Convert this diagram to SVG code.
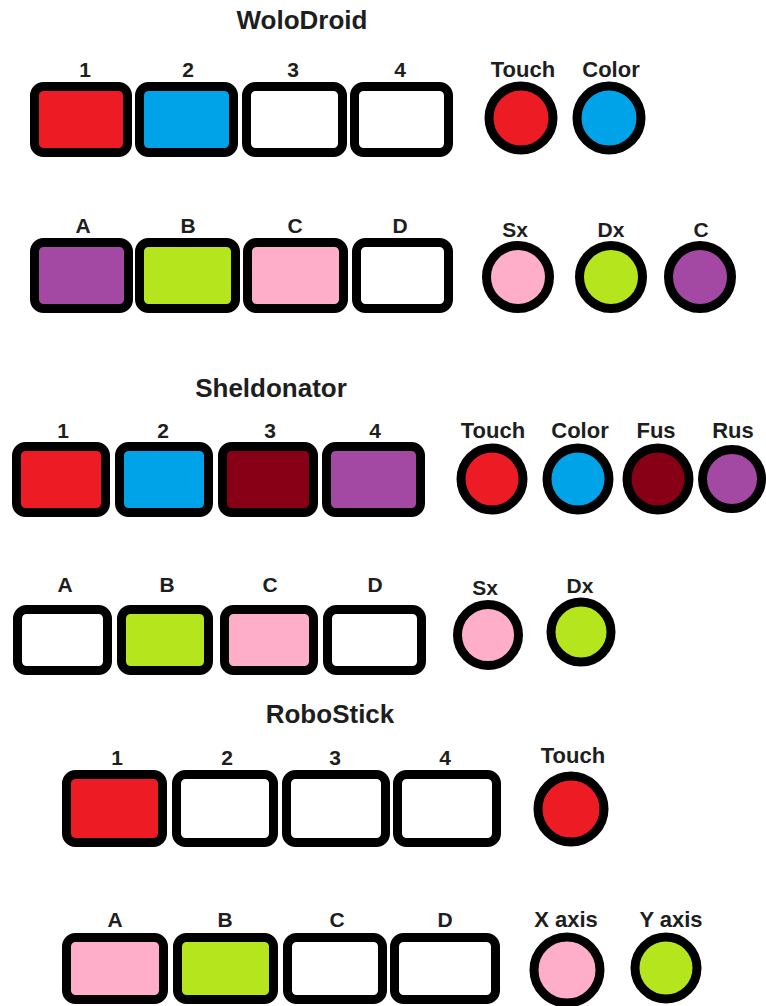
<svg xmlns="http://www.w3.org/2000/svg" width="766" height="1006" viewBox="0 0 766 1006">
<style>
text{font-family:"Liberation Sans",Arial,sans-serif;font-weight:bold;fill:#1e1e1e;text-anchor:middle}
.t{font-size:26px}
.l{font-size:22px}
.s{font-size:21px}
.n rect,.n circle{stroke:#000;stroke-width:9}
.red{fill:#ed1c24}.blue{fill:#00a2e8}.wht{fill:#fff}.pur{fill:#a349a4}.grn{fill:#b5e61d}.pnk{fill:#ffaec9}.drd{fill:#880015}
</style>
<rect x="0" y="0" width="766" height="1006" fill="#fff"/>
<g id="wolodroid" class="n">
<text class="t" x="302" y="29">WoloDroid</text>
<g id="w-outputs">
<text class="s" x="85" y="77">1</text><text class="s" x="188" y="77">2</text><text class="s" x="293" y="77">3</text><text class="s" x="400" y="77">4</text>
<rect class="red" x="34.5" y="86.5" width="93" height="66" rx="9"/>
<rect class="blue" x="139.5" y="86.5" width="94" height="66" rx="9"/>
<rect class="wht" x="246.5" y="86.5" width="96" height="66" rx="9"/>
<rect class="wht" x="354.5" y="86.5" width="94" height="66" rx="9"/>
</g>
<g id="w-sensors1">
<text class="l" x="523" y="77">Touch</text><text class="l" x="611" y="77">Color</text>
<circle class="red" cx="521" cy="118" r="32"/>
<circle class="blue" cx="609" cy="118" r="32"/>
</g>
<g id="w-ports">
<text class="s" x="83" y="233">A</text><text class="s" x="188" y="233">B</text><text class="s" x="295" y="233">C</text><text class="s" x="400" y="233">D</text>
<rect class="pur" x="34.5" y="242.5" width="94" height="66" rx="9"/>
<rect class="grn" x="139.5" y="242.5" width="96" height="66" rx="9"/>
<rect class="pnk" x="247.5" y="242.5" width="96" height="66" rx="9"/>
<rect class="wht" x="356.5" y="242.5" width="92" height="66" rx="9"/>
</g>
<g id="w-sensors2">
<text class="s" x="515" y="237">Sx</text><text class="s" x="611" y="237">Dx</text><text class="s" x="701" y="237">C</text>
<circle class="pnk" cx="518" cy="277" r="31.5"/>
<circle class="grn" cx="611" cy="277" r="31.5"/>
<circle class="pur" cx="700" cy="277" r="31.5"/>
</g>
</g>
<g id="sheldonator" class="n">
<text class="t" x="271" y="397">Sheldonator</text>
<g id="s-outputs">
<text class="s" x="63" y="438">1</text><text class="s" x="163" y="438">2</text><text class="s" x="270" y="438">3</text><text class="s" x="375" y="438">4</text>
<rect class="red" x="16.5" y="446.5" width="89" height="66" rx="9"/>
<rect class="blue" x="119.5" y="446.5" width="89" height="66" rx="9"/>
<rect class="drd" x="222.5" y="446.5" width="91" height="66" rx="9"/>
<rect class="pur" x="326.5" y="446.5" width="94" height="66" rx="9"/>
</g>
<g id="s-sensors1">
<text class="l" x="493" y="438">Touch</text><text class="l" x="580" y="438">Color</text><text class="l" x="656" y="438">Fus</text><text class="l" x="733" y="438">Rus</text>
<circle class="red" cx="492" cy="479" r="31"/>
<circle class="blue" cx="578" cy="479" r="31"/>
<circle class="drd" cx="658" cy="479" r="31"/>
<circle class="pur" cx="732" cy="479" r="29.5"/>
</g>
<g id="s-ports">
<text class="s" x="65" y="592">A</text><text class="s" x="167" y="592">B</text><text class="s" x="270" y="592">C</text><text class="s" x="375" y="592">D</text>
<rect class="wht" x="17.5" y="609.5" width="90" height="61" rx="9"/>
<rect class="grn" x="121.5" y="609.5" width="87" height="61" rx="9"/>
<rect class="pnk" x="224.5" y="609.5" width="89" height="61" rx="9"/>
<rect class="wht" x="327.5" y="609.5" width="94" height="61" rx="9"/>
</g>
<g id="s-sensors2">
<text class="s" x="485" y="595">Sx</text><text class="s" x="580" y="593">Dx</text>
<circle class="pnk" cx="488" cy="635" r="30.5"/>
<circle class="grn" cx="581" cy="632" r="30"/>
</g>
</g>
<g id="robostick" class="n">
<text class="t" x="330" y="723">RoboStick</text>
<g id="r-outputs">
<text class="s" x="117" y="765">1</text><text class="s" x="227" y="765">2</text><text class="s" x="335" y="765">3</text><text class="s" x="445" y="765">4</text>
<rect class="red" x="66.5" y="774.5" width="96" height="68" rx="9"/>
<rect class="wht" x="176.5" y="774.5" width="97" height="68" rx="9"/>
<rect class="wht" x="286.5" y="774.5" width="99" height="68" rx="9"/>
<rect class="wht" x="397.5" y="774.5" width="99" height="68" rx="9"/>
</g>
<g id="r-sensors1">
<text class="l" x="573" y="763">Touch</text>
<circle class="red" cx="571" cy="809" r="33"/>
</g>
<g id="r-ports">
<text class="s" x="115" y="927">A</text><text class="s" x="225" y="927">B</text><text class="s" x="337" y="927">C</text><text class="s" x="445" y="927">D</text>
<rect class="pnk" x="66.5" y="937.5" width="97" height="62" rx="9"/>
<rect class="grn" x="177.5" y="937.5" width="96" height="62" rx="9"/>
<rect class="wht" x="287.5" y="937.5" width="95" height="62" rx="9"/>
<rect class="wht" x="394.5" y="937.5" width="101" height="62" rx="9"/>
</g>
<g id="r-sensors2">
<text class="l" x="566" y="927">X axis</text><text class="l" x="671" y="927">Y axis</text>
<circle class="pnk" cx="567" cy="970" r="33"/>
<circle class="grn" cx="666" cy="968" r="31"/>
</g>
</g>
<g id="connectors"/>
</svg>
